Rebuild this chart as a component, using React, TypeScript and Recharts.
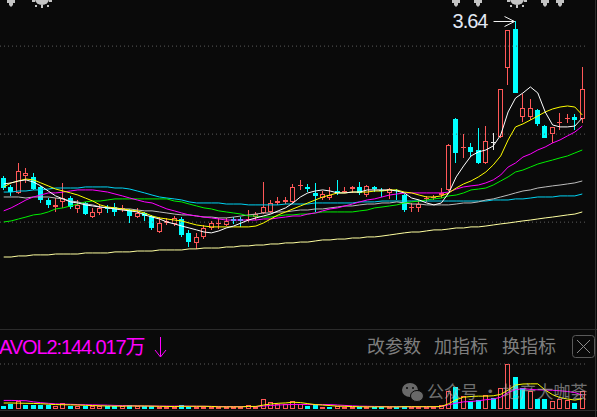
import React from "react";
import { ComposedChart, Bar, Line, XAxis, YAxis, ReferenceLine, ReferenceDot } from "recharts";

// daily candles, left to right
const opens = [
  2.751, 2.7, 2.666, 2.762, 2.757, 2.7, 2.626, 2.586, 2.615, 2.637,
  2.575, 2.609, 2.529, 2.552, 2.586, 2.586, 2.575, 2.569, 2.529, 2.552,
  2.535, 2.444, 2.495, 2.49, 2.518, 2.439, 2.382, 2.416, 2.467, 2.49,
  2.484, 2.518, 2.518, 2.512, 2.529, 2.552, 2.558, 2.609, 2.615, 2.615,
  2.706, 2.7, 2.666, 2.637, 2.637, 2.677, 2.671, 2.688, 2.7, 2.654,
  2.7, 2.683, 2.666, 2.683, 2.654, 2.581, 2.581, 2.632, 2.637, 2.654,
  2.683, 3.086, 2.921, 2.927, 2.91, 2.836, 2.955, 2.984, 3.376, 3.597,
  3.097, 3.097, 3.137, 3.046, 3.001, 3.063, 3.086, 3.097, 3.086,
];
const highs = [
  2.762, 2.711, 2.836, 2.808, 2.779, 2.706, 2.637, 2.637, 2.723, 2.649,
  2.626, 2.615, 2.581, 2.598, 2.598, 2.609, 2.598, 2.575, 2.581, 2.558,
  2.541, 2.529, 2.524, 2.535, 2.529, 2.456, 2.439, 2.484, 2.507, 2.524,
  2.524, 2.529, 2.529, 2.569, 2.558, 2.728, 2.626, 2.643, 2.643, 2.717,
  2.74, 2.717, 2.723, 2.677, 2.7, 2.74, 2.7, 2.706, 2.728, 2.711,
  2.706, 2.694, 2.694, 2.688, 2.66, 2.609, 2.626, 2.649, 2.654, 2.694,
  2.944, 3.092, 3.001, 2.95, 3.035, 3.046, 3.007, 3.256, 3.592, 3.64,
  3.228, 3.2, 3.143, 3.052, 3.041, 3.12, 3.114, 3.114, 3.381,
];
const lows = [
  2.683, 2.649, 2.66, 2.723, 2.683, 2.609, 2.581, 2.558, 2.581, 2.575,
  2.552, 2.541, 2.524, 2.541, 2.552, 2.535, 2.558, 2.495, 2.524, 2.507,
  2.456, 2.439, 2.484, 2.478, 2.416, 2.359, 2.348, 2.404, 2.456, 2.461,
  2.478, 2.49, 2.473, 2.501, 2.512, 2.546, 2.552, 2.598, 2.603, 2.609,
  2.683, 2.671, 2.558, 2.626, 2.626, 2.654, 2.666, 2.666, 2.654, 2.643,
  2.671, 2.643, 2.632, 2.626, 2.558, 2.558, 2.558, 2.615, 2.626, 2.637,
  2.677, 2.836, 2.865, 2.87, 2.83, 2.83, 2.91, 2.978, 3.279, 3.234,
  3.069, 3.08, 3.046, 2.978, 2.95, 3.024, 3.063, 3.024, 3.063,
];
const closes = [
  2.694, 2.671, 2.791, 2.779, 2.688, 2.626, 2.598, 2.598, 2.637, 2.586,
  2.598, 2.546, 2.558, 2.581, 2.575, 2.558, 2.581, 2.535, 2.552, 2.535,
  2.467, 2.495, 2.507, 2.524, 2.427, 2.387, 2.416, 2.467, 2.495, 2.495,
  2.507, 2.507, 2.507, 2.518, 2.546, 2.586, 2.609, 2.62, 2.626, 2.7,
  2.711, 2.688, 2.649, 2.66, 2.654, 2.666, 2.677, 2.7, 2.666, 2.706,
  2.688, 2.677, 2.688, 2.677, 2.569, 2.586, 2.603, 2.637, 2.643, 2.666,
  2.938, 2.893, 2.927, 2.899, 2.836, 2.961, 2.955, 3.256, 3.592, 3.234,
  3.149, 3.149, 3.058, 2.978, 3.041, 3.069, 3.092, 3.08, 3.256,
];

// moving averages of price
const ma5 = [
  2.717, 2.723, 2.734, 2.74, 2.728, 2.706, 2.677, 2.649, 2.632, 2.615,
  2.609, 2.598, 2.592, 2.586, 2.581, 2.575, 2.569, 2.564, 2.558, 2.541,
  2.529, 2.518, 2.501, 2.49, 2.478, 2.467, 2.456, 2.444, 2.439, 2.45,
  2.467, 2.478, 2.495, 2.512, 2.524, 2.535, 2.546, 2.564, 2.581, 2.609,
  2.643, 2.666, 2.677, 2.683, 2.677, 2.666, 2.666, 2.671, 2.671, 2.683,
  2.683, 2.683, 2.683, 2.677, 2.666, 2.637, 2.626, 2.609, 2.598, 2.609,
  2.666, 2.757, 2.819, 2.876, 2.899, 2.91, 2.933, 2.995, 3.126, 3.205,
  3.234, 3.268, 3.234, 3.126, 3.052, 3.041, 3.041, 3.046, 3.092,
];
const ma10 = [
  2.7, 2.723, 2.734, 2.745, 2.74, 2.723, 2.706, 2.688, 2.677, 2.666,
  2.654, 2.637, 2.62, 2.598, 2.586, 2.581, 2.575, 2.569, 2.564, 2.552,
  2.535, 2.524, 2.518, 2.512, 2.507, 2.495, 2.484, 2.478, 2.473, 2.473,
  2.473, 2.473, 2.473, 2.473, 2.478, 2.495, 2.518, 2.541, 2.558, 2.575,
  2.592, 2.609, 2.626, 2.643, 2.654, 2.666, 2.666, 2.671, 2.671, 2.671,
  2.677, 2.677, 2.683, 2.683, 2.671, 2.666, 2.654, 2.643, 2.643, 2.649,
  2.666, 2.694, 2.717, 2.734, 2.757, 2.785, 2.825, 2.876, 2.967, 3.041,
  3.058, 3.08, 3.103, 3.126, 3.143, 3.154, 3.16, 3.154, 3.109,
];
const ma20 = [
  2.564, 2.581, 2.603, 2.626, 2.643, 2.654, 2.666, 2.666, 2.671, 2.677,
  2.683, 2.683, 2.683, 2.677, 2.671, 2.66, 2.649, 2.637, 2.626, 2.615,
  2.609, 2.592, 2.575, 2.564, 2.552, 2.541, 2.535, 2.529, 2.524, 2.518,
  2.512, 2.512, 2.512, 2.512, 2.512, 2.518, 2.518, 2.524, 2.529, 2.535,
  2.535, 2.546, 2.552, 2.564, 2.575, 2.581, 2.592, 2.603, 2.615, 2.626,
  2.632, 2.643, 2.654, 2.66, 2.666, 2.666, 2.666, 2.666, 2.666, 2.666,
  2.671, 2.688, 2.7, 2.706, 2.711, 2.723, 2.74, 2.768, 2.813, 2.836,
  2.87, 2.887, 2.91, 2.927, 2.95, 2.967, 2.99, 3.012, 3.046,
];
const ma30 = [
  2.501, 2.507, 2.518, 2.529, 2.541, 2.546, 2.558, 2.575, 2.581, 2.592,
  2.603, 2.615, 2.62, 2.62, 2.626, 2.632, 2.632, 2.632, 2.632, 2.632,
  2.632, 2.632, 2.632, 2.62, 2.615, 2.603, 2.592, 2.581, 2.575, 2.564,
  2.558, 2.552, 2.546, 2.535, 2.535, 2.529, 2.529, 2.535, 2.541, 2.541,
  2.546, 2.546, 2.552, 2.558, 2.558, 2.558, 2.558, 2.558, 2.564, 2.569,
  2.581, 2.586, 2.592, 2.598, 2.609, 2.615, 2.62, 2.626, 2.632, 2.637,
  2.649, 2.654, 2.666, 2.683, 2.688, 2.694, 2.711, 2.734, 2.757, 2.785,
  2.796, 2.813, 2.83, 2.842, 2.853, 2.865, 2.876, 2.893, 2.91,
];
const ma60 = [
  2.643, 2.643, 2.643, 2.637, 2.643, 2.643, 2.643, 2.637, 2.632, 2.62,
  2.615, 2.603, 2.598, 2.586, 2.581, 2.581, 2.575, 2.575, 2.569, 2.564,
  2.564, 2.558, 2.552, 2.546, 2.541, 2.541, 2.535, 2.529, 2.529, 2.524,
  2.524, 2.529, 2.535, 2.541, 2.546, 2.552, 2.552, 2.558, 2.558, 2.564,
  2.569, 2.569, 2.575, 2.575, 2.581, 2.586, 2.592, 2.592, 2.598, 2.603,
  2.603, 2.609, 2.609, 2.615, 2.609, 2.603, 2.603, 2.598, 2.598, 2.598,
  2.598, 2.603, 2.609, 2.609, 2.615, 2.626, 2.632, 2.643, 2.654, 2.666,
  2.677, 2.683, 2.694, 2.7, 2.706, 2.711, 2.717, 2.723, 2.734,
];
const ma120 = [
  2.671, 2.671, 2.677, 2.677, 2.683, 2.683, 2.688, 2.694, 2.694, 2.694,
  2.694, 2.7, 2.7, 2.7, 2.7, 2.694, 2.694, 2.688, 2.677, 2.666,
  2.654, 2.643, 2.637, 2.632, 2.626, 2.615, 2.609, 2.609, 2.609, 2.609,
  2.603, 2.603, 2.603, 2.598, 2.598, 2.598, 2.598, 2.598, 2.603, 2.603,
  2.603, 2.603, 2.609, 2.609, 2.609, 2.609, 2.609, 2.609, 2.615, 2.615,
  2.615, 2.62, 2.62, 2.62, 2.62, 2.62, 2.62, 2.62, 2.62, 2.62,
  2.62, 2.62, 2.62, 2.62, 2.62, 2.62, 2.626, 2.626, 2.626, 2.632,
  2.632, 2.637, 2.643, 2.643, 2.643, 2.649, 2.649, 2.649, 2.66,
];
const ma250 = [
  2.302, 2.302, 2.308, 2.308, 2.314, 2.314, 2.314, 2.319, 2.319, 2.319,
  2.319, 2.325, 2.325, 2.325, 2.325, 2.331, 2.331, 2.331, 2.336, 2.336,
  2.336, 2.342, 2.342, 2.342, 2.342, 2.348, 2.348, 2.353, 2.353, 2.353,
  2.359, 2.359, 2.365, 2.365, 2.37, 2.37, 2.376, 2.376, 2.382, 2.382,
  2.387, 2.387, 2.393, 2.399, 2.399, 2.404, 2.404, 2.41, 2.41, 2.416,
  2.416, 2.421, 2.427, 2.433, 2.439, 2.444, 2.444, 2.45, 2.456, 2.456,
  2.461, 2.467, 2.467, 2.473, 2.473, 2.478, 2.484, 2.49, 2.495, 2.501,
  2.507, 2.512, 2.518, 2.524, 2.529, 2.535, 2.541, 2.546, 2.558,
];

// volume in 万 shares and its averages
const volumes = [
  47, 70, 117, 61, 61, 61, 61, 47, 84, 47,
  47, 47, 37, 37, 37, 37, 37, 61, 37, 37,
  37, 28, 28, 28, 61, 28, 28, 28, 28, 28,
  28, 28, 28, 61, 28, 145, 98, 70, 70, 107,
  70, 42, 56, 28, 35, 42, 30, 26, 32, 28,
  24, 30, 26, 28, 42, 30, 26, 30, 28, 56,
  257, 303, 187, 107, 131, 201, 154, 294, 630, 453,
  294, 247, 145, 145, 107, 145, 131, 84, 247,
];
const volMa5 = [
  84, 84, 82, 80, 78, 74, 68, 62, 60, 58,
  56, 52, 48, 45, 42, 40, 40, 42, 42, 42,
  40, 38, 36, 34, 38, 38, 38, 38, 36, 30,
  30, 30, 30, 36, 36, 55, 70, 80, 85, 95,
  90, 75, 62, 55, 48, 40, 38, 34, 32, 30,
  30, 30, 30, 30, 32, 32, 32, 32, 32, 35,
  75, 130, 165, 175, 180, 180, 185, 205, 265, 335,
  350, 352, 352, 265, 200, 160, 140, 125, 144,
];
const volMa10 = [
  120, 120, 118, 116, 100, 88, 80, 72, 68, 66,
  62, 60, 58, 56, 54, 50, 48, 46, 44, 42,
  42, 40, 40, 40, 40, 40, 38, 38, 36, 36,
  34, 34, 34, 34, 34, 42, 50, 56, 60, 64,
  64, 62, 62, 62, 62, 56, 50, 44, 40, 38,
  36, 34, 33, 32, 32, 32, 32, 32, 32, 33,
  60, 82, 100, 105, 115, 130, 140, 165, 230, 270,
  285, 275, 268, 266, 262, 255, 245, 230, 195,
];

const priceGrid = [3.5, 3.0, 2.5];
const volumeGrid = [630];
const peakBar = 70;
const peakPrice = 3.64;
const smallSignals = [2, 62, 65, 74, 76];
const gearSignals = [6, 70];

const RED = "#ff5858";
const CYAN = "#00ffff";
const BG = "#0a0a0a";
const PRICE_DOMAIN: [number, number] = [1.893, 3.762];

const rows = opens.map((open, i) => ({
  i,
  open,
  high: highs[i],
  low: lows[i],
  close: closes[i],
  ma5: ma5[i],
  ma10: ma10[i],
  ma20: ma20[i],
  ma30: ma30[i],
  ma60: ma60[i],
  ma120: ma120[i],
  ma250: ma250[i],
  vol: volumes[i],
  vma5: volMa5[i],
  vma10: volMa10[i],
  volUp: i === 0 ? closes[i] >= open : closes[i] >= closes[i - 1],
}));

function Candle(props: any) {
  const { x, y, width, height, payload } = props;
  if (x == null || !payload) return null;
  const { open, close, high, low } = payload;
  const top = Math.min(y, y + height);
  const span = Math.abs(height);
  const k = high > low ? span / (high - low) : 0;
  const py = (v: number) => Math.round(top + (high - v) * k);
  const cx = Math.floor(x + width / 2) + 0.5;
  const hi = py(high);
  const lo = py(low);
  const bt = py(Math.max(open, close));
  const bb = py(Math.min(open, close));

  if (close > open) {
    return (
      <g stroke={RED} strokeWidth={1} fill="none">
        {bt > hi && <line x1={cx} x2={cx} y1={hi} y2={bt} />}
        {lo > bb && <line x1={cx} x2={cx} y1={bb} y2={lo} />}
        {bb - bt >= 2 ? (
          <rect x={cx - 2} y={bt + 0.5} width={4} height={bb - bt - 1} />
        ) : (
          <rect x={cx - 2.5} y={bt} width={5} height={1} fill={RED} stroke="none" />
        )}
      </g>
    );
  }
  if (close < open) {
    return (
      <g>
        <line x1={cx} x2={cx} y1={hi} y2={lo} stroke={CYAN} strokeWidth={1} />
        <rect x={cx - 2.5} y={bt} width={5} height={Math.max(bb - bt, 1)} fill={CYAN} />
      </g>
    );
  }
  return (
    <g>
      <line x1={cx} x2={cx} y1={hi} y2={lo} stroke="#e8e8e8" strokeWidth={1} />
      <rect x={cx - 2.5} y={bt} width={5} height={1} fill="#e8e8e8" />
    </g>
  );
}

function VolumeBar(props: any) {
  const { x, y, width, height, payload } = props;
  if (x == null || !payload) return null;
  const cx = Math.floor(x + width / 2) + 0.5;
  const top = Math.round(y);
  const base = Math.round(y + height);
  if (payload.volUp) {
    return (
      <rect x={cx - 2} y={top + 0.5} width={4} height={Math.max(base - top - 1, 0.5)} fill="none" stroke={RED} />
    );
  }
  return <rect x={cx - 2.5} y={top} width={5} height={Math.max(base - top, 1)} fill={CYAN} />;
}

function PeakMark(props: any) {
  const { cx, cy } = props;
  const ay = Math.round(cy) + 0.5;
  return (
    <g>
      <text
        x={cx - 63}
        y={cy + 6.5}
        fill="#e2e9f4"
        fontSize={20}
        letterSpacing={-1}
        fontFamily="'Liberation Sans', Arial, sans-serif"
      >
        {peakPrice.toFixed(2)}
      </text>
      <g stroke="#f2f2f2" strokeWidth={1} fill="none">
        <line x1={cx - 22} x2={cx - 1} y1={ay} y2={ay} />
        <polyline points={`${cx - 11},${ay - 5} ${cx - 1},${ay} ${cx - 11},${ay + 5}`} />
      </g>
    </g>
  );
}

function SmallSignal(props: any) {
  const { cx } = props;
  const c = Math.round(cx);
  return (
    <polygon
      fill="#c4c4c4"
      points={`${c - 4},0 ${c + 4},0 ${c + 4},3 ${c + 2},3 ${c + 2},5 ${c},7 ${c - 2},5 ${c - 2},3 ${c - 4},3`}
    />
  );
}

function GearSignal(props: any) {
  const { cx } = props;
  const c = Math.round(cx) + 1;
  return (
    <g fill="#c4c4c4">
      <ellipse cx={c} cy={-1} rx={7} ry={6} />
      <rect x={c - 10} y={0} width={3} height={2} />
      <rect x={c + 7} y={0} width={3} height={2} />
      <rect x={c - 7} y={5} width={2} height={2} />
      <rect x={c + 5} y={5} width={2} height={2} />
      <rect x={c - 1} y={5} width={2} height={3} />
    </g>
  );
}

const lineProps = { type: "linear" as const, dot: false, activeDot: false, strokeWidth: 1, isAnimationActive: false };

export default function App() {
  return (
    <div
      style={{
        position: "absolute",
        left: 0,
        top: 0,
        width: 597,
        height: 417,
        background: BG,
        overflow: "hidden",
      }}
    >
      <div style={{ position: "absolute", left: 0, top: 0 }}>
        <ComposedChart width={597} height={329} data={rows} margin={{ top: 0, right: 11, bottom: 0, left: 0 }}>
          <XAxis dataKey="i" type="category" hide />
          <YAxis hide domain={PRICE_DOMAIN} allowDataOverflow />
          {priceGrid.map((p) => (
            <ReferenceLine key={p} y={p} stroke="#5c5c5c" strokeDasharray="1 3" />
          ))}
          <Bar
            dataKey={(d: any) => [d.low, d.high]}
            barSize={5}
            shape={<Candle />}
            isAnimationActive={false}
          />
          <Line dataKey="ma250" stroke="#ffffa0" {...lineProps} />
          <Line dataKey="ma120" stroke="#00d4f4" {...lineProps} />
          <Line dataKey="ma60" stroke="#bcbcbc" {...lineProps} />
          <Line dataKey="ma30" stroke="#00f000" {...lineProps} />
          <Line dataKey="ma20" stroke="#ff00ff" {...lineProps} />
          <Line dataKey="ma10" stroke="#ffff00" {...lineProps} />
          <Line dataKey="ma5" stroke="#ffffff" {...lineProps} />
          <ReferenceDot x={peakBar - 1} y={peakPrice} r={0} ifOverflow="visible" shape={<PeakMark />} />
          {smallSignals.map((b) => (
            <ReferenceDot key={`s${b}`} x={b - 1} y={PRICE_DOMAIN[1]} r={0} ifOverflow="visible" shape={<SmallSignal />} />
          ))}
          {gearSignals.map((b) => (
            <ReferenceDot key={`g${b}`} x={b - 1} y={PRICE_DOMAIN[1]} r={0} ifOverflow="visible" shape={<GearSignal />} />
          ))}
        </ComposedChart>
      </div>

      <div style={{ position: "absolute", left: 0, top: 330 }}>
        <ComposedChart width={597} height={79} data={rows} margin={{ top: 0, right: 11, bottom: 0, left: 0 }}>
          <XAxis dataKey="i" type="category" hide />
          <YAxis hide domain={[0, 1106]} allowDataOverflow />
          {volumeGrid.map((v) => (
            <ReferenceLine key={v} y={v} stroke="#5c5c5c" strokeDasharray="1 3" />
          ))}
          <Bar dataKey="vol" barSize={5} shape={<VolumeBar />} isAnimationActive={false} />
          <Line dataKey="vma10" stroke="#ff00ff" {...lineProps} />
          <Line dataKey="vma5" stroke="#ffff00" {...lineProps} />
        </ComposedChart>
      </div>

      <svg width={597} height={417} style={{ position: "absolute", left: 0, top: 0, pointerEvents: "none" }}>
        <line x1={0} x2={597} y1={329.5} y2={329.5} stroke="#2c2c2c" />
        <line x1={0} x2={597} y1={410.5} y2={410.5} stroke="#2c2c2c" />
        <line x1={595.5} x2={595.5} y1={0} y2={417} stroke="#2c2c2c" />

        <text
          x={-1}
          y={354}
          fill="#ff00ff"
          fontSize={20}
          letterSpacing={-1.1}
          fontFamily="'Liberation Sans', 'Noto Sans CJK SC', sans-serif"
        >
          AVOL2:144.017万
        </text>
        <g stroke="#ff00ff" strokeWidth={1} fill="none">
          <line x1={160.5} x2={160.5} y1={337} y2={357} />
          <polyline points="155,350 160.5,357 166,350" />
        </g>

        <g fill="#7e7e7e" fontSize={18} fontFamily="'Noto Sans CJK SC', sans-serif">
          <text x={367} y={353}>改参数</text>
          <text x={434} y={353}>加指标</text>
          <text x={502} y={353}>换指标</text>
        </g>
        <rect x={572.5} y={335.5} width={22} height={22} rx={3} fill="none" stroke="#5a5a5a" />
        <g stroke="#8a8a8a" strokeWidth={1}>
          <line x1={577} y1={340} x2={590} y2={353} />
          <line x1={590} y1={340} x2={577} y2={353} />
        </g>

        <g opacity={0.6}>
          <ellipse cx={410} cy={390} rx={8} ry={7} fill="#a8a8a8" />
          <ellipse cx={417} cy={396} rx={6.5} ry={5.5} fill="#a8a8a8" stroke={BG} strokeWidth={1} />
          <circle cx={407} cy={388} r={1} fill={BG} />
          <circle cx={413} cy={388} r={1} fill={BG} />
          <text
            x={427}
            y={398}
            fill="#b4b4b4"
            fontSize={17}
            fontFamily="'Noto Sans CJK SC', sans-serif"
            style={{ whiteSpace: "pre" }}
          >
            {"公众号 · 地产大咖荟"}
          </text>
        </g>
      </svg>
    </div>
  );
}
